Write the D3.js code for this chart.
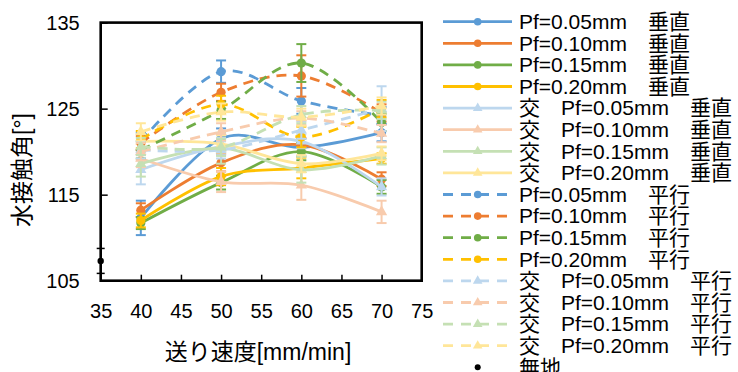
<!DOCTYPE html>
<html><head><meta charset="utf-8">
<script src="https://cdn.jsdelivr.net/npm/d3@7"></script>
<style>
html,body{margin:0;padding:0;background:#fff;}
svg{display:block;font-family:"Liberation Sans",Arial,"Noto Sans CJK JP",sans-serif;}
</style></head>
<body>
<svg id="chart" width="738" height="372"></svg>
<script>
// ---- data ----
const speeds = [40, 50, 60, 70];
const xTicks = [35, 40, 45, 50, 55, 60, 65, 70, 75];
const yTicks = [105, 115, 125, 135];
const seriesNames = [
  "Pf=0.05mm　垂直", "Pf=0.10mm　垂直", "Pf=0.15mm　垂直", "Pf=0.20mm　垂直",
  "交　Pf=0.05mm　垂直", "交　Pf=0.10mm　垂直", "交　Pf=0.15mm　垂直", "交　Pf=0.20mm　垂直",
  "Pf=0.05mm　平行", "Pf=0.10mm　平行", "Pf=0.15mm　平行", "Pf=0.20mm　平行",
  "交　Pf=0.05mm　平行", "交　Pf=0.10mm　平行", "交　Pf=0.15mm　平行", "交　Pf=0.20mm　平行"
];
const seriesValues = [
  [112.3, 121.5, 120.5, 122.2],
  [113.2, 118.7, 120.8, 116.8],
  [111.7, 116.4, 120.0, 115.9],
  [112.0, 117.1, 118.1, 119.2],
  [117.9, 120.6, 121.2, 115.9],
  [119.2, 116.5, 116.1, 113.0],
  [118.6, 120.4, 117.9, 119.5],
  [121.2, 120.9, 118.6, 119.8],
  [121.2, 129.3, 125.9, 124.2],
  [121.0, 126.9, 128.8, 124.5],
  [120.2, 124.8, 130.3, 123.4],
  [121.4, 125.5, 121.7, 125.0],
  [120.2, 120.2, 122.5, 125.0],
  [120.0, 122.3, 123.9, 122.1],
  [120.6, 120.5, 124.3, 124.8],
  [122.3, 124.6, 124.0, 125.3]
];
const seriesErrors = [
  [2.0, 1.2, 1.0, 1.0],
  [0.8, 1.0, 0.8, 0.8],
  [0.7, 0.8, 1.0, 0.8],
  [0.8, 1.0, 1.2, 0.6],
  [1.7, 1.0, 0.8, 1.0],
  [1.0, 1.2, 1.7, 1.3],
  [1.5, 1.8, 1.5, 1.0],
  [1.0, 1.0, 1.0, 0.8],
  [1.0, 1.3, 1.5, 1.0],
  [0.8, 1.0, 2.4, 1.0],
  [1.0, 1.0, 2.2, 1.0],
  [1.0, 1.0, 1.2, 1.0],
  [1.0, 1.0, 1.0, 2.6],
  [1.0, 1.0, 0.8, 1.0],
  [1.0, 1.0, 1.0, 1.0],
  [1.0, 1.0, 1.0, 1.0]
];
const seriesColors = [
  "#5B9BD5", "#ED7D31", "#70AD47", "#FFC000",
  "#BDD7EE", "#F8CBAD", "#C5E0B4", "#FFE699",
  "#5B9BD5", "#ED7D31", "#70AD47", "#FFC000",
  "#BDD7EE", "#F8CBAD", "#C5E0B4", "#FFE699"
];
const seriesDashed = [false,false,false,false,false,false,false,false,true,true,true,true,true,true,true,true];
const seriesMarker = ["circle","circle","circle","circle","triangle","triangle","triangle","triangle",
                      "circle","circle","circle","circle","triangle","triangle","triangle","triangle"];
const plainName = "無地";
const plainX = 35, plainValue = 107.3, plainError = 1.45;

// ---- layout ----
const svg = d3.select("#chart");
const L = 100.7, R = 421.7, T = 22.6, B = 280.7;
const x = d3.scaleLinear().domain([35, 75]).range([L, R]);
const y = d3.scaleLinear().domain([105, 135]).range([B, T]);

// axes
const yAxis = d3.axisLeft(y).tickValues(yTicks).tickSize(-7).tickPadding(21).tickFormat(d3.format("d"));
const xAxis = d3.axisBottom(x).tickValues(xTicks).tickSize(-6).tickPadding(23).tickFormat(d3.format("d"));
const gy = svg.append("g").attr("transform", `translate(${L},0)`).call(yAxis);
const gx = svg.append("g").attr("transform", `translate(0,${B})`).call(xAxis);
[gy, gx].forEach(g => {
  g.select(".domain").remove();
  g.selectAll(".tick line").attr("stroke", "#000").attr("stroke-width", 1.5);
  g.selectAll(".tick text").attr("fill", "#000").attr("font-size", 20).attr("font-family", null);
});

// axis titles
svg.append("text").attr("x", 258).attr("y", 360).attr("text-anchor", "middle")
  .attr("font-size", 23).attr("fill", "#000").text("送り速度[mm/min]");
svg.append("text").attr("transform", "translate(22,170) rotate(-90)").attr("text-anchor", "middle")
  .attr("dominant-baseline", "central").attr("font-size", 23).attr("fill", "#000").text("水接触角[°]");

// series
const line = d3.line().x(d => x(d[0])).y(d => y(d[1])).curve(d3.curveCatmullRom.alpha(0));
const tri = d3.symbol().type(d3.symbolTriangle).size(55);
const plot = svg.append("g");

function drawMarker(g, type, cx, cy, color, small) {
  if (type === "circle") {
    g.append("circle").attr("cx", cx).attr("cy", cy).attr("r", small ? 3.8 : 4.6).attr("fill", color);
  } else {
    g.append("path").attr("d", d3.symbol().type(d3.symbolTriangle).size(small ? 40 : 55)())
      .attr("transform", `translate(${cx},${cy})`).attr("fill", color);
  }
}

seriesValues.forEach((vals, i) => {
  const g = plot.append("g");
  const color = seriesColors[i];
  const pts = speeds.map((s, j) => [s, vals[j]]);
  // error bars
  speeds.forEach((s, j) => {
    const e = seriesErrors[i][j];
    const cx = x(s), y1 = y(vals[j] + e), y2 = y(vals[j] - e);
    g.append("line").attr("x1", cx).attr("x2", cx).attr("y1", y1).attr("y2", y2)
      .attr("stroke", color).attr("stroke-width", 2);
    [y1, y2].forEach(yy => g.append("line").attr("x1", cx - 5).attr("x2", cx + 5).attr("y1", yy).attr("y2", yy)
      .attr("stroke", color).attr("stroke-width", 2));
  });
  g.append("path").attr("d", line(pts)).attr("fill", "none").attr("stroke", color)
    .attr("stroke-width", 2.8).attr("stroke-dasharray", seriesDashed[i] ? "10,7" : null);
  pts.forEach(p => drawMarker(g, seriesMarker[i], x(p[0]), y(p[1]), color, false));
});

// plain (無地)
{
  const g = plot.append("g");
  const cx = x(plainX), y1 = y(plainValue + plainError), y2 = y(plainValue - plainError);
  g.append("line").attr("x1", cx).attr("x2", cx).attr("y1", y1).attr("y2", y2).attr("stroke", "#000").attr("stroke-width", 1.5);
  [y1, y2].forEach(yy => g.append("line").attr("x1", cx - 4).attr("x2", cx + 4).attr("y1", yy).attr("y2", yy)
    .attr("stroke", "#000").attr("stroke-width", 1.5));
  g.append("circle").attr("cx", cx).attr("cy", y(plainValue)).attr("r", 3.2).attr("fill", "#000");
}

// frame
svg.append("rect").attr("x", L).attr("y", T).attr("width", R - L).attr("height", B - T)
  .attr("fill", "none").attr("stroke", "#000").attr("stroke-width", 2.6);

// legend
const legend = svg.append("g");
const rowY = i => 21.7 + i * 21.6;
seriesNames.forEach((name, i) => {
  const yy = rowY(i), color = seriesColors[i];
  legend.append("line").attr("x1", 443).attr("x2", 512).attr("y1", yy).attr("y2", yy)
    .attr("stroke", color).attr("stroke-width", 2.8).attr("stroke-dasharray", seriesDashed[i] ? "10,8" : null);
  drawMarker(legend, seriesMarker[i], 477.7, yy, color, true);
  legend.append("text").attr("x", 519).attr("y", yy + 7.3).attr("font-size", 21).attr("fill", "#000")
    .style("white-space", "pre").text(name);
});
{
  const yy = rowY(16);
  legend.append("circle").attr("cx", 477.7).attr("cy", yy).attr("r", 3).attr("fill", "#000");
  legend.append("text").attr("x", 519).attr("y", yy + 7.3).attr("font-size", 21).attr("fill", "#000").text(plainName);
}
</script>
</body></html>
